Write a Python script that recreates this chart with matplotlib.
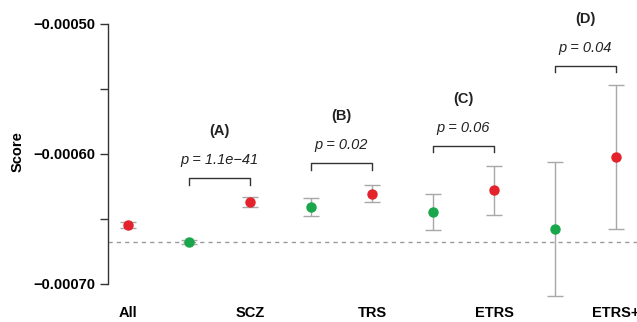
import matplotlib
matplotlib.use('Agg')
import matplotlib.pyplot as plt
import numpy as np

plt.rcParams['font.family'] = ['Liberation Sans', 'DejaVu Sans']

# ── Data ─────────────────────────────────────────────────────────────────────
groups = ['All', 'SCZ', 'TRS', 'ETRS', 'ETRS+']

# red (patients) for every group, green (comparison) for all but "All"
red_mean = [-0.0006546, -0.0006369, -0.0006305, -0.0006279, -0.0006023]
red_err = [0.0000022, 0.0000035, 0.0000065, 0.0000188, 0.0000551]
green_mean = [-0.0006677, -0.0006408, -0.0006448, -0.0006577]
green_err = [0.0000016, 0.0000068, 0.0000138, 0.0000515]

ref_line = -0.0006677

panel_tags = ['(A)', '(B)', '(C)', '(D)']
p_texts = ['p = 1.1e\u221241', 'p = 0.02', 'p = 0.06', 'p = 0.04']

# ── Layout ───────────────────────────────────────────────────────────────────
bracket_top = [-0.0006185, -0.0006070, -0.0005938, -0.0005323]
leg_len = 0.0000050
p_gap = 0.0000140
tag_gap = 0.0000360

RED = '#e3222b'
GREEN = '#1aa64b'
GREY = '#a8a8a8'
DARK = '#333333'

fig = plt.figure(figsize=(6.37, 3.22), dpi=100)
ax = fig.add_axes([108 / 637, 24 / 322, 529 / 637, 293 / 322])

red_x = np.arange(len(groups)) * 2
green_x = red_x[1:] - 1

ax.axhline(ref_line, color='#9a9a9a', lw=1.0, ls=(0, (3, 3)), zorder=1)

ax.errorbar(green_x, green_mean, yerr=green_err, fmt='none', ecolor=GREY,
            elinewidth=1.0, capsize=6, capthick=1.0, zorder=2)
ax.errorbar(red_x, red_mean, yerr=red_err, fmt='none', ecolor=GREY,
            elinewidth=1.0, capsize=6, capthick=1.0, zorder=2)
ax.plot(green_x, green_mean, 'o', color=GREEN, ms=6.5, mec=GREEN, zorder=3)
ax.plot(red_x, red_mean, 'o', color=RED, ms=6.5, mec=RED, zorder=3)

for i in range(len(panel_tags)):
    x0, x1 = green_x[i], red_x[i + 1]
    top = bracket_top[i]
    ax.plot([x0, x0, x1, x1], [top - leg_len, top, top, top - leg_len],
            color=DARK, lw=1.0, zorder=2)
    xm = (x0 + x1) / 2
    ax.text(xm, top + p_gap, p_texts[i], ha='center', va='center',
            fontsize=10.5, style='italic', color='#222222')
    ax.text(xm, top + tag_gap, panel_tags[i], ha='center', va='center',
            fontsize=10.5, fontweight='bold', color='#222222')

ax.set_xlim(-0.328, 8.344)
ax.set_ylim(-0.00071077, -0.0004854)

ax.set_xticks(red_x)
ax.set_xticklabels(groups, fontsize=10.5, fontweight='bold')
ax.tick_params(axis='x', length=0, pad=6)

major = [-0.0007, -0.0006, -0.0005]
ax.set_yticks(major)
ax.set_yticklabels(['\u22120.00070', '\u22120.00060', '\u22120.00050'],
                   fontsize=10.5, fontweight='bold')
ax.set_yticks([-0.00065, -0.00055], minor=True)
ax.tick_params(axis='y', which='both', length=6, width=1.0, color=DARK,
               pad=3)
ax.set_ylabel('Score', fontsize=10.5, fontweight='bold')
ax.yaxis.set_label_coords(-0.158, 0.5)

for side in ('top', 'right', 'bottom'):
    ax.spines[side].set_visible(False)
ax.spines['left'].set_bounds(-0.0007, -0.0005)
ax.spines['left'].set_color(DARK)
ax.spines['left'].set_linewidth(1.0)

fig.savefig('out.png', dpi=100)
